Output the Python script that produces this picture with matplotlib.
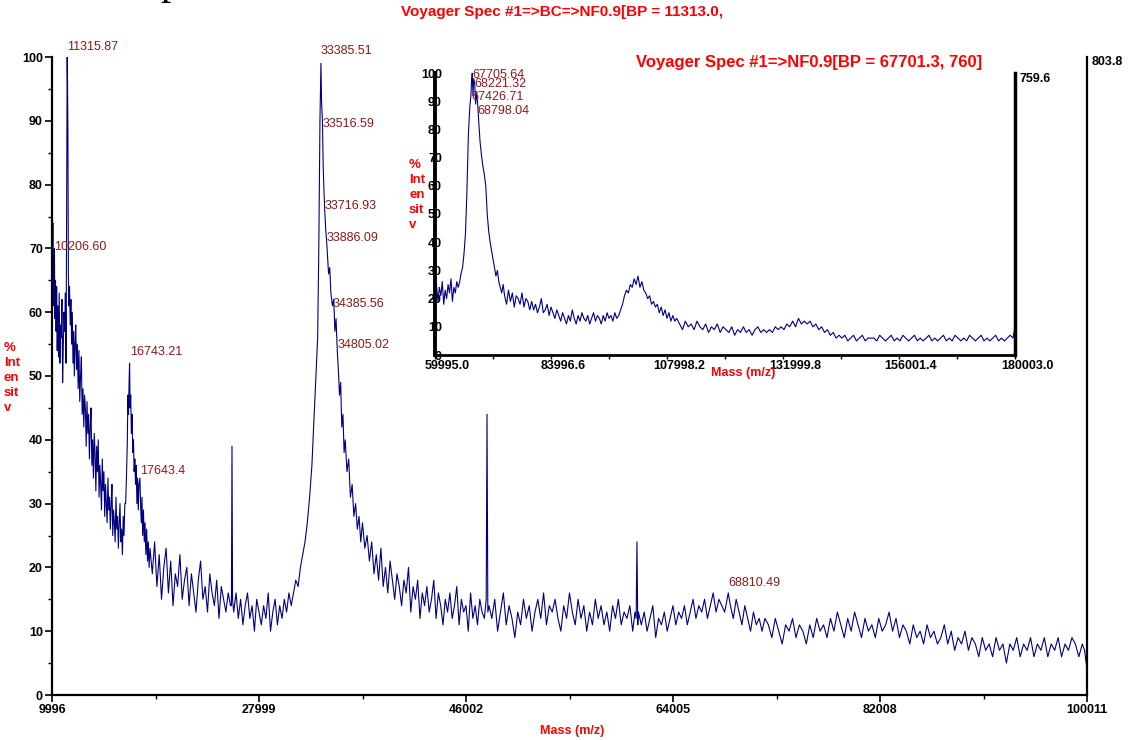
"""
Voyager MALDI-TOF spectrum (NF0.9) with zoomed high-mass inset.
Writes out.png (1128 x 740 px).
"""

import matplotlib
matplotlib.use("Agg")   # headless
import matplotlib.pyplot as plt
from matplotlib.ticker import FixedLocator, AutoMinorLocator
from matplotlib.transforms import ScaledTranslation

# ── Style ──────────────────────────────────────────────────────────────────────

plt.rcParams.update({
    "font.family": ["Liberation Sans", "DejaVu Sans"],
    "axes.linewidth": 1.4,
})

LINE_COLOR  = "#00007F"   # spectrum trace
PEAK_COLOR  = "#8B1A1A"   # peak mass labels
TITLE_COLOR = "#FF0000"   # instrument header / axis names

# ── Data: main spectrum (mass in Da, intensity in %) ──────────────────────────

MAIN_MASS = [
    9996, 10030, 10070, 10110, 10150, 10206, 10250, 10300, 10350, 10400,
    10450, 10500, 10560, 10620, 10680, 10740, 10800, 10860, 10920, 10980,
    11040, 11100, 11160, 11220, 11270, 11316, 11345, 11380, 11420, 11470,
    11520, 11580, 11640, 11700, 11760, 11820, 11880, 11940, 12000,
    12060, 12130, 12200, 12270, 12340, 12410, 12480, 12550, 12620, 12690,
    12760, 12830, 12900, 12970, 13040, 13110, 13180, 13250, 13320, 13390,
    13460, 13530, 13600, 13670, 13740, 13810, 13880, 13950, 14020, 14090,
    14160, 14230, 14300, 14370, 14440, 14510, 14580, 14650, 14720, 14790,
    14860, 14930, 15000, 15070, 15140, 15210, 15280, 15350, 15420, 15490,
    15560, 15630, 15700, 15770, 15840, 15910, 15980, 16050, 16120, 16190,
    16260, 16330,
    16400, 16470, 16540, 16600, 16650, 16700, 16743, 16790, 16840, 16900,
    16960, 17020, 17080, 17140, 17200, 17260, 17320, 17380, 17440, 17500,
    17560, 17643, 17700, 17760, 17820, 17880, 17950, 18020, 18090, 18160,
    18230, 18300, 18370, 18440, 18520,
    18720, 18920, 19120, 19320, 19520, 19720, 19920, 20120, 20320, 20520,
    20720, 20920, 21120, 21320, 21520, 21720, 21920, 22120, 22320, 22520,
    22720, 22920, 23120, 23320, 23520, 23720, 23920, 24120, 24320, 24520,
    24720, 24920, 25120, 25320, 25520, 25600, 25650, 25700, 25800, 26000,
    26200, 26400, 26600, 26800, 27000, 27200, 27400, 27600, 27800, 28000,
    28200, 28400, 28600, 28800, 29000, 29200, 29400, 29600, 29800, 30000,
    30200, 30400, 30600, 30800,
    31000, 31200, 31400, 31600, 31800, 32000, 32200, 32400, 32600, 32800,
    32950, 33100, 33200, 33300, 33385, 33440, 33516, 33580, 33650, 33717,
    33800, 33886, 33950, 34050, 34150, 34250, 34386, 34500, 34600, 34700,
    34805, 34900, 35000, 35100, 35200, 35300, 35400, 35500, 35650, 35800,
    35950, 36100, 36250, 36400, 36550, 36700, 36850, 37000, 37200, 37400,
    37600, 37800, 38000, 38200, 38400, 38600, 38800, 39000, 39200, 39400,
    39600, 39800, 40000, 40200, 40400, 40600, 40800, 41000, 41200, 41400,
    41600, 41800, 42000, 42200, 42400, 42600, 42800, 43000, 43200, 43400,
    43600, 43800, 44000, 44200, 44400, 44600, 44800, 45000, 45200, 45400,
    45600, 45800, 46000, 46200, 46400, 46600, 46800, 47000, 47200, 47400,
    47600, 47760, 47830, 47900, 48000,
    48250, 48500, 48750, 49000, 49250, 49500, 49750, 50000, 50250, 50500,
    50750, 51000, 51250, 51500, 51750, 52000, 52250, 52500, 52750, 53000,
    53250, 53500, 53750, 54000, 54250, 54500, 54750, 55000, 55250, 55500,
    55750, 56000, 56250, 56500, 56750, 57000, 57250, 57500, 57750, 58000,
    58250, 58500, 58750, 59000, 59250, 59500, 59750, 60000, 60250, 60500,
    60700, 60800, 60870, 60940, 61000,
    61250, 61500, 61750, 62000, 62250, 62500, 62750, 63000, 63250, 63500,
    63750, 64000, 64250, 64500, 64750, 65000, 65250, 65500, 65750, 66000,
    66250, 66500, 66750, 67000, 67250, 67500, 67750, 68000, 68250, 68500,
    68810, 69000, 69250, 69500, 69750, 70000, 70250, 70500, 70750, 71000,
    71250, 71500, 71750, 72000,
    72300, 72600, 72900, 73200, 73500, 73800, 74100, 74400, 74700, 75000,
    75300, 75600, 75900, 76200, 76500, 76800, 77100, 77400, 77700, 78000,
    78300, 78600, 78900, 79200, 79500, 79800, 80100, 80400, 80700, 81000,
    81300, 81600, 81900, 82200, 82500, 82800, 83100, 83400, 83700, 84000,
    84300, 84600, 84900, 85200, 85500, 85800, 86100, 86400, 86700, 87000,
    87300, 87600, 87900, 88200, 88500, 88800, 89100, 89400, 89700, 90000,
    90300, 90600, 90900, 91200, 91500, 91800, 92100, 92400, 92700, 93000,
    93300, 93600, 93900, 94200, 94500, 94800, 95100, 95400, 95700, 96000,
    96300, 96600, 96900, 97200, 97500, 97800, 98100, 98400, 98700, 99000,
    99300, 99600, 99800, 100011,
]

MAIN_INT = [
    89, 66, 74, 61, 65, 70, 59, 65, 57, 64,
    54, 61, 53, 63, 52, 58, 56, 62, 49, 55,
    60, 57, 63, 52, 78, 100, 96, 88, 66, 61,
    64, 58, 62, 55, 60, 52, 57, 50, 55,
    58, 51, 55, 48, 54, 46, 50, 53, 44, 48,
    42, 47, 45, 39, 46, 41, 44, 37, 42, 45,
    36, 40, 34, 41, 38, 32, 39, 35, 40, 31,
    36, 33, 29, 37, 32, 35, 28, 33, 30, 27,
    34, 29, 31, 26, 30, 33, 25, 29, 27, 24,
    31, 26, 28, 23, 27, 30, 24, 26, 22, 28,
    25, 30,
    30, 34, 39, 47, 44, 49, 52, 45, 47, 41,
    44, 38, 40, 35, 37, 33, 36, 30, 34, 29,
    33, 34, 30, 27, 31, 25, 29, 24, 27, 22,
    26, 21, 24, 20, 23,
    19, 24, 17, 22, 15, 20, 23, 16, 21, 14,
    19, 17, 22, 15, 18, 20, 14, 19, 16, 13,
    18, 21, 15, 17, 13, 19, 16, 14, 18, 12,
    17, 15, 13, 16, 14, 14, 39, 15, 13, 16,
    12, 15, 11, 14, 16, 12, 14, 10, 15, 13,
    11, 14, 12, 16, 10, 13, 15, 11, 14, 12,
    15, 13, 16, 14,
    16, 18, 17, 20, 22, 24, 27, 31, 36, 44,
    50, 56, 70, 90, 99, 93, 90, 83, 79, 76,
    73, 71, 69, 66, 67, 63, 61, 62, 57, 59,
    54, 51, 47, 49, 42, 44, 38, 40, 35, 37,
    31, 33, 28, 30, 26, 28, 24, 27, 23, 25,
    21, 24, 19, 22, 18, 23, 17, 20, 16, 21,
    18, 15, 19, 17, 14, 18, 16, 20, 13, 17,
    15, 18, 12, 16, 14, 17, 13, 15, 18, 12,
    16, 14, 11, 15, 13, 16, 12, 14, 17, 11,
    15, 13, 14, 10, 16, 12, 14, 11, 15, 13,
    12, 15, 44, 13, 14,
    12, 15, 10, 13, 16, 11, 14, 12, 9, 13,
    11, 15, 12, 14, 10, 13, 15, 12, 16, 11,
    14, 13, 15, 12, 10, 14, 12, 16, 13, 11,
    15, 12, 14, 10, 13, 11, 15, 12, 14, 11,
    13, 10, 14, 12, 15, 11, 13, 12, 14, 10,
    13, 12, 24, 11, 13,
    11, 13, 10, 12, 14, 9, 12, 11, 13, 10,
    12, 14, 11, 13, 12, 14, 11, 13, 15, 12,
    14, 13, 15, 12, 14, 16, 13, 15, 14, 13,
    16, 14, 12, 15, 13, 11, 14, 12, 10, 13,
    11, 12, 10, 12,
    11, 9, 12, 10, 8, 11, 10, 12, 9, 11,
    10, 8, 11, 9, 12, 10, 11, 9, 12, 10,
    13, 11, 9, 12, 10, 13, 11, 9, 12, 10,
    11, 9, 12, 10, 11, 13, 10, 12, 9, 11,
    10, 8, 11, 9, 10, 8, 11, 9, 10, 8,
    9, 11, 8, 10, 7, 9, 8, 10, 7, 9,
    8, 6, 9, 7, 8, 6, 9, 7, 8, 5,
    8, 7, 9, 6, 8, 7, 9, 6, 8, 7,
    9, 6, 8, 7, 9, 6, 8, 7, 9, 8,
    6, 8, 7, 4,
]

MAIN_XTICKS = [9996, 27999, 46002, 64005, 82008, 100011]
MAIN_YTICKS = [0, 10, 20, 30, 40, 50, 60, 70, 80, 90, 100]

# peak labels and the height (%) at which each label is printed
MAIN_PEAK_LABELS = ["11315.87", "33385.51", "33516.59", "33716.93", "33886.09",
                    "34385.56", "34805.02", "10206.60", "16743.21", "17643.4",
                    "68810.49"]
MAIN_LABEL_LEVEL = [101.6, 100.9, 89.5, 76.6, 71.6,
                    61.3, 54.9, 70.2, 53.8, 35.1,
                    17.6]

# ── Data: inset spectrum (60–180 kDa) ─────────────────────────────────────────

INSET_MASS = [
    59995, 60300, 60600, 60900, 61200, 61500, 61800, 62100, 62400, 62700,
    63000, 63300, 63600, 63900, 64200, 64500, 64800,
    65100, 65400, 65700, 66000, 66300, 66600, 66900, 67200, 67426, 67550,
    67706, 67850, 68000, 68221, 68400, 68600, 68798, 69000, 69300, 69600,
    69900, 70200, 70500, 70800, 71100, 71400, 71700, 72000, 72300, 72600,
    72900, 73200, 73500, 73800, 74100,
    74400, 74800, 75200, 75600, 76000, 76400, 76800, 77200, 77600, 78000,
    78400, 78800, 79200, 79600, 80000, 80400, 80800, 81200, 81600, 82000,
    82400, 82800, 83200, 83600, 84000, 84400, 84800, 85200, 85600, 86000,
    86400, 86800, 87200, 87600, 88000, 88400, 88800, 89200, 89600, 90000,
    90400, 90800, 91200, 91600, 92000, 92400, 92800, 93200, 93600, 94000,
    94400, 94800, 95200, 95600, 96000, 96400, 96800, 97200, 97600, 98000,
    98400, 98800, 99200, 99600, 100000, 100400, 100800, 101200, 101600, 102000,
    102400, 102800, 103200, 103600, 104000, 104400, 104800, 105200, 105600, 106000,
    106400, 106800, 107200, 107600, 108000, 108400, 108800, 109200, 109600, 110000,
    110600, 111200, 111800, 112400, 113000, 113600, 114200, 114800, 115400, 116000,
    116600, 117200, 117800, 118400, 119000, 119600, 120200, 120800, 121400, 122000,
    122600, 123200, 123800, 124400, 125000, 125600, 126200, 126800, 127400, 128000,
    128600, 129200, 129800, 130400, 131000, 131600, 132200, 132800, 133400, 134000,
    134600, 135200, 135800, 136400, 137000, 137600, 138200, 138800, 139400, 140000,
    140600, 141200, 141800, 142400, 143000, 143600, 144200, 144800, 145400, 146000,
    146600, 147200, 147800, 148400, 149000, 149600, 150200, 150800, 151400, 152000,
    152600, 153200, 153800, 154400, 155000, 155600, 156200, 156800, 157400, 158000,
    158600, 159200, 159800, 160400, 161000, 161600, 162200, 162800, 163400, 164000,
    164600, 165200, 165800, 166400, 167000, 167600, 168200, 168800, 169400, 170000,
    170600, 171200, 171800, 172400, 173000, 173600, 174200, 174800, 175400, 176000,
    176600, 177200, 177800, 178400, 179000, 179600, 180003,
]

INSET_INT = [
    22, 25, 19, 24, 21, 26, 18, 23, 20, 25,
    22, 27, 19, 24, 22, 26, 24,
    26, 29, 31, 36, 43, 58, 78, 88, 92, 97,
    100, 92, 98, 96, 89, 93, 90, 84, 76, 71,
    67, 64, 60, 50, 44, 40, 37, 34, 31, 28,
    30, 26, 24, 22, 25,
    21, 18, 23, 19, 22, 17, 21, 20, 18, 22,
    17, 20, 19, 16, 19, 16, 18, 15, 17, 20,
    15, 16, 18, 14, 17, 15, 13, 16, 14, 12,
    15, 13, 11, 14, 12, 16, 13, 11, 14, 12,
    15, 13, 12, 14, 11, 13, 15, 12, 14, 13,
    11, 14, 12, 15, 13, 14, 12, 15, 13, 14,
    16, 18, 21, 23, 22, 25, 24, 27, 25, 28,
    24, 26, 23, 22, 20, 21, 18, 19, 17, 18,
    15, 17, 14, 16, 13, 15, 12, 14, 12, 13,
    11, 9, 12, 10, 11, 9, 12, 10, 9, 11,
    8, 10, 9, 11, 8, 10, 9, 8, 10, 7,
    9, 8, 10, 8, 9, 7, 9, 10, 8, 9,
    8, 9, 8, 10, 9, 10, 9, 11, 10, 12,
    10, 13, 11, 12, 11, 12, 10, 11, 9, 10,
    8, 9, 7, 8, 6, 7, 6, 7, 5, 6,
    7, 5, 6, 7, 5, 6, 6, 6, 5, 7,
    6, 5, 6, 7, 5, 6, 5, 7, 6, 5,
    6, 7, 5, 6, 5, 6, 7, 5, 6, 5,
    6, 7, 5, 6, 5, 7, 6, 5, 6, 5,
    7, 6, 5, 6, 7, 5, 6, 5, 6, 7,
    5, 6, 5, 6, 7, 6, 10,
]

INSET_XTICKS = [59995.0, 83996.6, 107998.2, 131999.8, 156001.4, 180003.0]
INSET_YTICKS = [0, 10, 20, 30, 40, 50, 60, 70, 80, 90, 100]

INSET_PEAK_LABELS = ["67705.64", "68221.32", "67426.71", "68798.04"]
INSET_LABEL_LEVEL = [99.3, 96.1, 91.5, 86.5]

MAIN_TITLE  = "Voyager Spec #1=>BC=>NF0.9[BP = 11313.0,"
INSET_TITLE = "Voyager Spec #1=>NF0.9[BP = 67701.3, 760]"
MAIN_MAX    = "803.8"
INSET_MAX   = "759.6"
Y_NAME      = "%\nInt\nen\nsit\nv"
X_NAME      = "Mass (m/z)"

# ── Figure ─────────────────────────────────────────────────────────────────────

W, H = 1128, 740
fig = plt.figure(figsize=(W / 100, H / 100), dpi=100)


def fx(px):
    return px / W


def fy(py):
    return 1 - py / H


# ── Main axes ──────────────────────────────────────────────────────────────────

ax = fig.add_axes([fx(52), fy(695), fx(1087 - 52), (695 - 57) / H])
ax.plot(MAIN_MASS, MAIN_INT, color=LINE_COLOR, linewidth=0.8)
ax.set_xlim(MAIN_XTICKS[0], MAIN_XTICKS[-1])
ax.set_ylim(0, 100)

ax.spines["top"].set_visible(False)
for side in ("left", "bottom", "right"):
    ax.spines[side].set_linewidth(1.6)

ax.xaxis.set_major_locator(FixedLocator(MAIN_XTICKS))
ax.xaxis.set_minor_locator(AutoMinorLocator(2))
ax.set_xticklabels([str(t) for t in MAIN_XTICKS], fontweight="bold")
ax.set_yticks(MAIN_YTICKS)
ax.set_yticklabels([str(t) for t in MAIN_YTICKS], fontweight="bold")
ax.yaxis.set_minor_locator(AutoMinorLocator(2))
ax.tick_params(which="both", direction="out", top=False, right=False)
ax.tick_params(which="major", length=5, width=1.2, labelsize=9, pad=1.5)
ax.tick_params(which="minor", length=3, width=1.0)

for lbl, lvl in zip(MAIN_PEAK_LABELS, MAIN_LABEL_LEVEL):
    ax.text(float(lbl), lvl, lbl, color=PEAK_COLOR, fontsize=9,
            ha="left", va="center", clip_on=False)

# ── Inset axes ─────────────────────────────────────────────────────────────────

ins = fig.add_axes([fx(435), fy(355), fx(1015 - 435), (355 - 73) / H])
ins.set_facecolor("none")
ins.plot(INSET_MASS, INSET_INT, color=LINE_COLOR, linewidth=0.8)
ins.set_xlim(INSET_XTICKS[0], INSET_XTICKS[-1])
ins.set_ylim(0, 100)

ins.spines["top"].set_visible(False)
ins.spines["left"].set_linewidth(2.8)
ins.spines["right"].set_linewidth(2.5)
ins.spines["bottom"].set_linewidth(2.0)

ins.xaxis.set_major_locator(FixedLocator(INSET_XTICKS))
ins.xaxis.set_minor_locator(AutoMinorLocator(2))
ins.set_xticklabels([f"{t:.1f}" for t in INSET_XTICKS], fontweight="bold")
ins.set_yticks(INSET_YTICKS)
ins.set_yticklabels([str(t) for t in INSET_YTICKS], fontweight="bold")
ins.tick_params(axis="x", which="both", direction="out", length=3,
                width=1.0, labelsize=9, pad=0.5, top=False)
ins.tick_params(axis="y", which="both", length=0, labelsize=9, pad=-5,
                right=False)

# instrument software prints these labels slightly right of their ticks
shift = ScaledTranslation(12 / 100, 0, fig.dpi_scale_trans)
for lbl in ins.get_xticklabels():
    lbl.set_transform(lbl.get_transform() + shift)

for lbl, lvl in zip(INSET_PEAK_LABELS, INSET_LABEL_LEVEL):
    ins.text(float(lbl), lvl, lbl, color=PEAK_COLOR, fontsize=9,
             ha="left", va="center", clip_on=False)

# ── Header / axis names ────────────────────────────────────────────────────────

fig.text(fx(562), fy(12), MAIN_TITLE, color=TITLE_COLOR, fontsize=11,
         fontweight="bold", ha="center", va="center")
fig.text(fx(809), fy(62), INSET_TITLE, color=TITLE_COLOR, fontsize=12,
         fontweight="bold", ha="center", va="center")
fig.text(fx(1092), fy(62), MAIN_MAX, fontsize=9, fontweight="bold",
         ha="left", va="center")
fig.text(fx(1020), fy(79), INSET_MAX, fontsize=9, fontweight="bold",
         ha="left", va="center")
fig.text(fx(572), fy(731), X_NAME, color=TITLE_COLOR, fontsize=9,
         fontweight="bold", ha="center", va="center")
fig.text(fx(743), fy(373), X_NAME, color=TITLE_COLOR, fontsize=9,
         fontweight="bold", ha="center", va="center")
fig.text(fx(4), fy(378), Y_NAME, color=TITLE_COLOR, fontsize=9.5,
         fontweight="bold", ha="left", va="center", linespacing=1.35)
fig.text(fx(409), fy(195), Y_NAME, color=TITLE_COLOR, fontsize=9.5,
         fontweight="bold", ha="left", va="center", linespacing=1.35)

# remnant of a cropped serif heading at the very top edge
fig.text(fx(160), 1 + 6 / H, "p", fontsize=30, family="Liberation Serif",
         ha="left", va="baseline")

fig.savefig("out.png", dpi=100)
plt.close(fig)
print("Saved: out.png")
